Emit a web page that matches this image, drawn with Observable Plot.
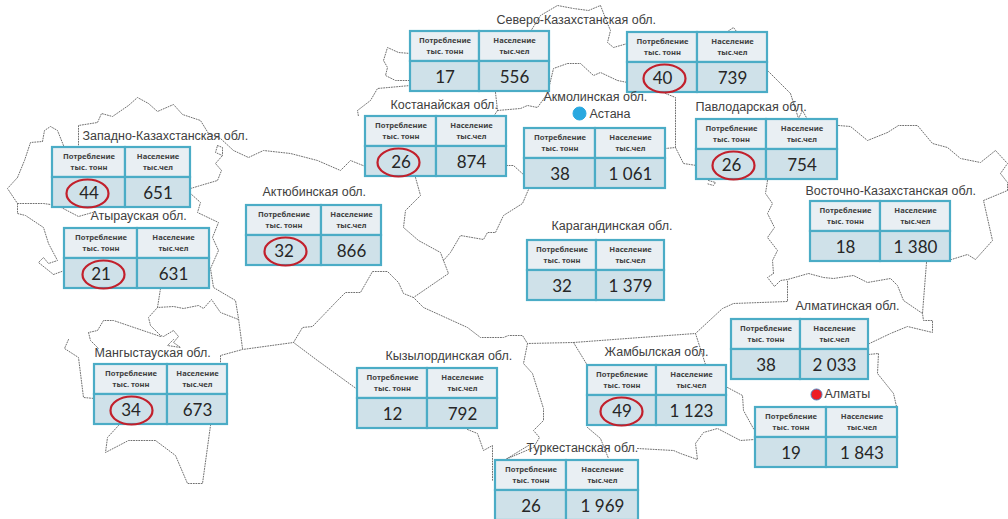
<!DOCTYPE html>
<html lang="ru">
<head>
<meta charset="utf-8">
<script src="https://cdn.jsdelivr.net/npm/d3@7"></script>
<script src="https://cdn.jsdelivr.net/npm/@observablehq/plot@0.6"></script>
<style>html,body{margin:0;padding:0;background:#fff}svg{display:block}</style>
</head>
<body>
<div id="chart"></div>
<script>
// Values
const regions = ["Западно-Казахстанская обл.","Атырауская обл.","Актюбинская обл.",null,"Костанайская обл.","Акмолинская обл.","Павлодарская обл.","Восточно-Казахстанская обл.","Карагандинская обл.","Алматинская обл.","Жамбылская обл.","Кызылординская обл.","Мангыстауская обл.","Туркестанская обл.",null,"Северо-Казахстанская обл."];
const consumption = [44,21,32,17,26,38,26,18,32,38,49,12,34,26,19,40];
const population = ["651","631","866","556","874","1 061","754","1 380","1 379","2 033","1 123","792","673","1 969","1 843","739"];
const highlighted = [1,1,1,0,1,0,1,0,0,0,1,0,1,0,0,1];
const headerLines = ["Потребление","тыс. тонн","Население","тыс.чел"];
// Where each region sits on the map grid
const tableLeft = [52,64,246,410,365,524,696,810,527,731,587,357,94,495,755,627];
const tableMid  = [125,137,321,479,436,595,766,880,596,800,656,427,167,566,826,697];
const tableRight= [190,209,381,549,506,665,837,950,664,868,726,497,227,638,897,767];
const tableTop  = [147,228,205,31,116,128,119,201,240,319,365,368,364,460,407,32];
const labelX = [82,90,262,null,390,543,695,805,551,795,604,385,94,526,null,496];
const labelY = [135.5,215.5,191.5,null,104.5,96.5,106.5,190.5,225.5,305.5,351.5,355.5,352.5,447.5,null,19.5];
const ringX = [87,103,285,null,398,null,733,null,null,null,621,null,131,null,null,664];
const cities = ["Астана","Алматы"];
const cityX = [579,816], cityY = [113,394], cityFill = ["#29A8E0","#ED1C24"], cityStroke = ["#29A8E0","#4F81BD"], cityR = [6.5,5.5];
const cityLabelX = [589,824], cityLabelY = [113.5,393.5];
// Oblast and state borders
const borders = [
[[63,145],[57,130],[50,126],[44,130],[42,141],[30,142],[24,160],[17,177],[7,188],[17,203],[17,213],[25,215],[43,227],[48,243],[57,260],[48,263],[43,257],[38,262],[53,274],[64,270]],
[[17,203],[43,203],[57,205],[78,216],[92,212]],
[[78,147],[78,125],[97,122],[101,113],[112,116],[128,105],[137,97],[148,103],[157,111],[173,104],[182,114],[200,120],[208,133],[220,138],[233,150],[248,157],[263,150],[290,153],[317,160],[340,170],[350,160],[365,166]],
[[217,145],[222,147],[222,155],[215,152],[217,145]],
[[190,188],[200,185],[217,180],[221,170],[215,163],[222,155]],
[[190,193],[200,202],[197,212],[218,222],[212,237],[218,250],[210,268],[213,287],[235,300],[238,318],[242,348]],
[[160,288],[157,307],[173,306],[183,308],[198,305],[203,308],[211,299],[220,312],[238,319]],
[[157,307],[148,317],[150,325],[160,335],[163,336],[173,330],[178,336],[173,342],[180,347],[167,345],[173,339]],
[[160,336],[113,320],[103,320],[97,330],[88,332],[90,340],[98,348]],
[[68,339],[64,348],[78,357],[83,397],[94,398]],
[[118,425],[107,437],[105,452],[128,440],[155,440],[175,455],[187,483],[202,483],[210,425]],
[[220,364],[220,355],[242,349],[293,342],[302,327],[312,326],[337,300],[345,292],[360,292],[372,271],[387,271],[398,282],[403,293],[413,297]],
[[293,342],[317,360],[357,389]],
[[415,177],[420,195],[405,210],[403,227],[418,240],[440,252],[443,260],[448,273],[413,297]],
[[443,260],[450,252],[460,235],[483,239],[487,232],[495,232],[503,215],[522,203],[528,189]],
[[413,297],[423,307],[467,327],[480,337],[503,337],[508,335],[522,335],[527,343],[573,342],[640,337],[695,333],[722,308],[733,303],[787,301],[787,280]],
[[527,343],[523,363],[532,373],[543,408],[543,420],[533,430],[539,437],[533,447],[505,459]],
[[573,342],[587,365]],
[[695,333],[705,364]],
[[587,427],[600,438],[608,458]],
[[637,448],[673,450],[680,453],[697,459],[695,443],[703,432],[717,428],[740,440],[754,439]],
[[727,387],[742,395],[743,410],[754,430]],
[[767,180],[765,193],[772,203],[767,213],[774,227],[767,237],[777,250],[772,260],[773,273],[767,277],[774,286],[780,280],[787,279],[808,273],[823,277],[833,278],[853,275],[867,282],[890,278],[897,285],[903,300],[922,313],[923,320],[932,320],[932,332],[907,326],[890,333],[869,343]],
[[868,354],[878,353],[877,373],[893,393],[896,406]],
[[926,262],[922,313]],
[[838,125],[850,126],[867,140],[887,132],[898,125],[917,125],[932,143],[947,147],[960,158],[980,162],[995,150],[1007,163],[1000,173],[1007,182],[1007,190],[983,200],[992,240],[975,259],[967,254],[951,259]],
[[768,71],[790,93],[798,118],[802,110],[807,119]],
[[727,31],[733,27],[736,31]],
[[530,31],[540,15],[557,5],[573,8],[588,10],[600,5],[607,23],[610,30],[607,42],[613,47],[627,43]],
[[410,53],[398,52],[387,47],[383,60],[387,67],[385,75],[395,80],[410,80]],
[[410,85],[377,88],[370,100],[357,110],[358,116]],
[[495,92],[497,110],[493,116]],
[[497,110],[520,108],[527,105],[537,107],[547,93],[553,68],[567,63],[580,63],[593,75],[600,72],[617,80],[627,82]],
[[665,93],[675,97],[675,147],[665,148]],
[[675,147],[683,163],[696,165]],
[[708,180],[715,182],[713,185],[706,183]],
[[506,165],[513,165],[524,175]],
[[467,429],[477,433],[483,450],[492,445],[492,480]],
[[505,459],[528,445]]
];

// Build tables for the library
const rows = consumption.map((c,i)=>({name:regions[i],c,p:population[i],on:highlighted[i],l:tableLeft[i],m:tableMid[i],r:tableRight[i],t:tableTop[i],lx:labelX[i],ly:labelY[i],rx:ringX[i]}));
const ROW = 30;
const cells = rows.flatMap(d=>[
  {x1:d.l,x2:d.m,y1:d.t,y2:d.t+ROW,fill:"#E9EFF3"},
  {x1:d.m,x2:d.r,y1:d.t,y2:d.t+ROW,fill:"#E9EFF3"},
  {x1:d.l,x2:d.m,y1:d.t+ROW,y2:d.t+2*ROW,fill:"#CFE1E9"},
  {x1:d.m,x2:d.r,y1:d.t+ROW,y2:d.t+2*ROW,fill:"#CFE1E9"}
]);
const heads = rows.flatMap(d=>[
  {x:(d.l+d.m)/2,y:d.t+9.5,s:headerLines[0]},
  {x:(d.l+d.m)/2,y:d.t+20.5,s:headerLines[1]},
  {x:(d.m+d.r)/2,y:d.t+9.5,s:headerLines[2]},
  {x:(d.m+d.r)/2,y:d.t+20.5,s:headerLines[3]}
]);
const vals = rows.flatMap(d=>[
  {x:(d.l+d.m)/2,y:d.t+46,s:String(d.c)},
  {x:(d.m+d.r)/2,y:d.t+46,s:d.p}
]);
const rings = rows.filter(d=>d.on).map(d=>({x:d.rx,y:d.t+46}));
const borderPts = borders.flatMap((run,k)=>run.map(([x,y])=>({x,y,k})));
const ellipse = {draw(ctx){
  const a=21,b=14,ka=a*0.5523,kb=b*0.5523;
  ctx.moveTo(-a,0);
  ctx.bezierCurveTo(-a,-kb,-ka,-b,0,-b);
  ctx.bezierCurveTo(ka,-b,a,-kb,a,0);
  ctx.bezierCurveTo(a,kb,ka,b,0,b);
  ctx.bezierCurveTo(-ka,b,-a,kb,-a,0);
  ctx.closePath();
}};
const labelFont = {fontFamily:"'Liberation Sans',Arial,sans-serif",fontSize:12.5,fill:"#404040",textAnchor:"start"};
const cityRows = cities.map((name,i)=>({name,x:cityX[i],y:cityY[i],fill:cityFill[i],stroke:cityStroke[i],r:cityR[i],lx:cityLabelX[i],ly:cityLabelY[i]}));

const plot = Plot.plot({
  width:1008,height:519,margin:0,
  x:{domain:[0,1008],range:[0,1008],axis:null},
  y:{domain:[0,519],range:[0,519],axis:null},
  r:{type:"identity"},
  style:{background:"#fff"},
  marks:[
    Plot.line(borderPts,{x:"x",y:"y",z:"k",stroke:"#707070",strokeWidth:1,strokeDasharray:"1 1.6",curve:"linear"}),
    Plot.rect(cells,{x1:"x1",x2:"x2",y1:"y1",y2:"y2",fill:"fill",stroke:"#4BACC6",strokeWidth:2.2,inset:0}),
    Plot.text(heads,{x:"x",y:"y",text:"s",fontFamily:"'Noto Sans',sans-serif",fontWeight:700,fontSize:7.6,fill:"#3f3f3f"}),
    Plot.text(vals,{x:"x",y:"y",text:"s",fontFamily:"Lato,'Noto Sans',sans-serif",fontSize:17,fill:"#262626"}),
    Plot.dot(rings,{x:"x",y:"y",symbol:ellipse,stroke:"#C2202C",strokeWidth:2.2,fill:"none"}),
    Plot.text(rows.filter(d=>d.lx!=null),{x:"lx",y:"ly",text:"name",...labelFont}),
    Plot.dot(cityRows,{x:"x",y:"y",r:"r",fill:"fill",stroke:"stroke",strokeWidth:1}),
    Plot.text(cityRows,{x:"lx",y:"ly",text:"name",...labelFont})
  ]
});
document.getElementById("chart").appendChild(plot);
</script>
</body>
</html>
